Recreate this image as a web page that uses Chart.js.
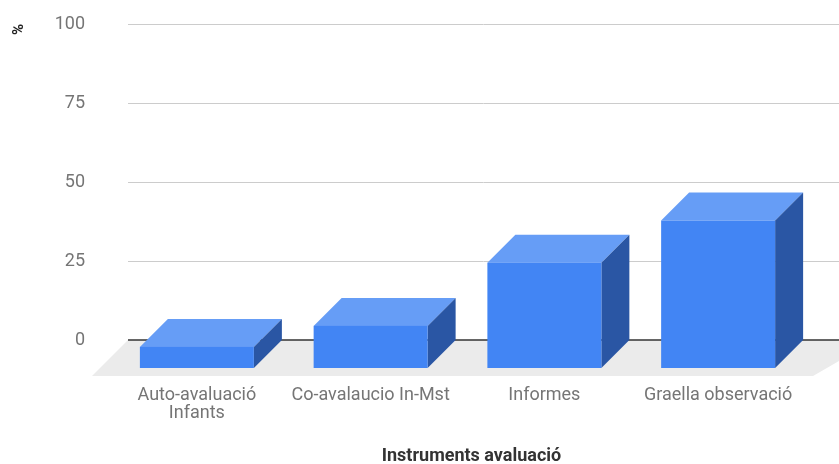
<!DOCTYPE html>
<html>
<head>
<meta charset="utf-8">
<script src="https://cdn.jsdelivr.net/npm/chart.js@4/dist/chart.umd.min.js"></script>
<style>
  html, body { margin: 0; padding: 0; background: #fff; }
  #wrap { width: 839px; height: 464px; position: relative; }
</style>
</head>
<body>
<div id="wrap"><canvas id="c"></canvas></div>
<script>
// dades del gràfic
const categories = [['Auto-avaluació', 'Infants'], 'Co-avalaucio In-Mst', 'Informes', 'Graella observació'];
const percentatges = [6.67, 13.33, 33.33, 46.67];
const yTicks = [0, 25, 50, 75, 100];
const xTitle = 'Instruments avaluació';
const yTitle = '%';

// aspecte 3D
const DEPTH = 28;        // desplaçament cara frontal
const FLOOR = 36;        // fondària del terra
const colors = { front: '#4285f4', top: '#669df6', side: '#2a56a4' };

// plugin: graella, terra i caixes 3D a partir dels elements de barra
const bars3d = {
  id: 'bars3d',
  beforeDatasetsDraw(chart) {
    const { ctx, scales } = chart;
    const y = scales.y;
    const x0 = 128, x1 = chart.width;
    ctx.save();
    // línies de graella
    ctx.strokeStyle = '#cccccc';
    ctx.lineWidth = 1;
    yTicks.forEach(v => {
      if (v === 0) return;
      const py = Math.round(y.getPixelForValue(v)) + 0.5;
      ctx.beginPath(); ctx.moveTo(x0, py); ctx.lineTo(x1, py); ctx.stroke();
    });
    // terra
    const zy = y.getPixelForValue(0);
    ctx.fillStyle = '#ebebeb';
    ctx.beginPath();
    ctx.moveTo(x0, zy);
    ctx.lineTo(x1 + FLOOR, zy);
    ctx.lineTo(x1 - 26, zy + FLOOR);
    ctx.lineTo(x0 - FLOOR, zy + FLOOR);
    ctx.closePath();
    ctx.fill();
    // línia zero
    ctx.strokeStyle = '#333333';
    ctx.lineWidth = 1.5;
    ctx.beginPath(); ctx.moveTo(x0, zy); ctx.lineTo(x1, zy); ctx.stroke();
    ctx.restore();
  },
  afterDatasetsDraw(chart) {
    const { ctx } = chart;
    const meta = chart.getDatasetMeta(0);
    ctx.save();
    meta.data.forEach(el => {
      const { x, y, base, width } = el.getProps(['x', 'y', 'base', 'width'], true);
      const l = x - width / 2, r = x + width / 2, d = DEPTH;
      // cara superior
      ctx.fillStyle = colors.top;
      ctx.beginPath();
      ctx.moveTo(l - d, y + d); ctx.lineTo(r - d, y + d); ctx.lineTo(r, y); ctx.lineTo(l, y);
      ctx.closePath(); ctx.fill();
      // cara lateral
      ctx.fillStyle = colors.side;
      ctx.beginPath();
      ctx.moveTo(r - d, y + d); ctx.lineTo(r, y); ctx.lineTo(r, base); ctx.lineTo(r - d, base + d);
      ctx.closePath(); ctx.fill();
      // cara frontal
      ctx.fillStyle = colors.front;
      ctx.fillRect(l - d, y + d, width, base - y);
    });
    ctx.restore();
  },
  afterDraw(chart) {
    const { ctx, chartArea } = chart;
    ctx.save();
    ctx.font = 'bold 18px Roboto';
    ctx.fillStyle = '#333333';
    ctx.textAlign = 'center';
    ctx.textBaseline = 'middle';
    ctx.fillText(xTitle, (chartArea.left - DEPTH + chartArea.right) / 2, 456);
    ctx.restore();
  }
};

new Chart(document.getElementById('c'), {
  type: 'bar',
  data: {
    labels: categories,
    datasets: [{
      label: yTitle,
      data: percentatges,
      backgroundColor: 'rgba(0,0,0,0)',
      borderWidth: 0,
      barPercentage: 0.656,
      categoryPercentage: 1
    }]
  },
  options: {
    responsive: true,
    maintainAspectRatio: false,
    animation: false,
    events: [],
    layout: { padding: { top: 24, right: 6, left: 0, bottom: 0 } },
    plugins: {
      legend: { display: false },
      tooltip: { enabled: false }
    },
    scales: {
      x: {
        offset: true,
        grid: { display: false, drawTicks: false },
        border: { display: false },
        ticks: {
          color: '#757575',
          font: { family: 'Roboto', size: 18, lineHeight: 1.0 },
          padding: 46,
          labelOffset: -DEPTH,
          maxRotation: 0,
          autoSkip: false
        },
        afterFit(s) {
          s.height = 124;
          s.paddingLeft = 0;
          s.paddingRight = 0;
        }
      },
      y: {
        min: 0,
        max: 100,
        grid: { display: false, drawTicks: false },
        border: { display: false },
        afterBuildTicks(s) { s.ticks = yTicks.map(v => ({ value: v })); },
        ticks: {
          color: '#757575',
          font: { family: 'Roboto', size: 18 },
          padding: 53
        },
        title: {
          display: true,
          text: yTitle,
          align: 'end',
          color: '#222222',
          font: { family: 'Roboto', size: 15, weight: 'bold' },
          padding: { top: 10, bottom: 0 }
        },
        afterFit(s) {
          s.width = 138;
          s.paddingTop = 0;
          s.paddingBottom = 0;
        }
      }
    }
  },
  plugins: [bars3d]
});
</script>
</body>
</html>
